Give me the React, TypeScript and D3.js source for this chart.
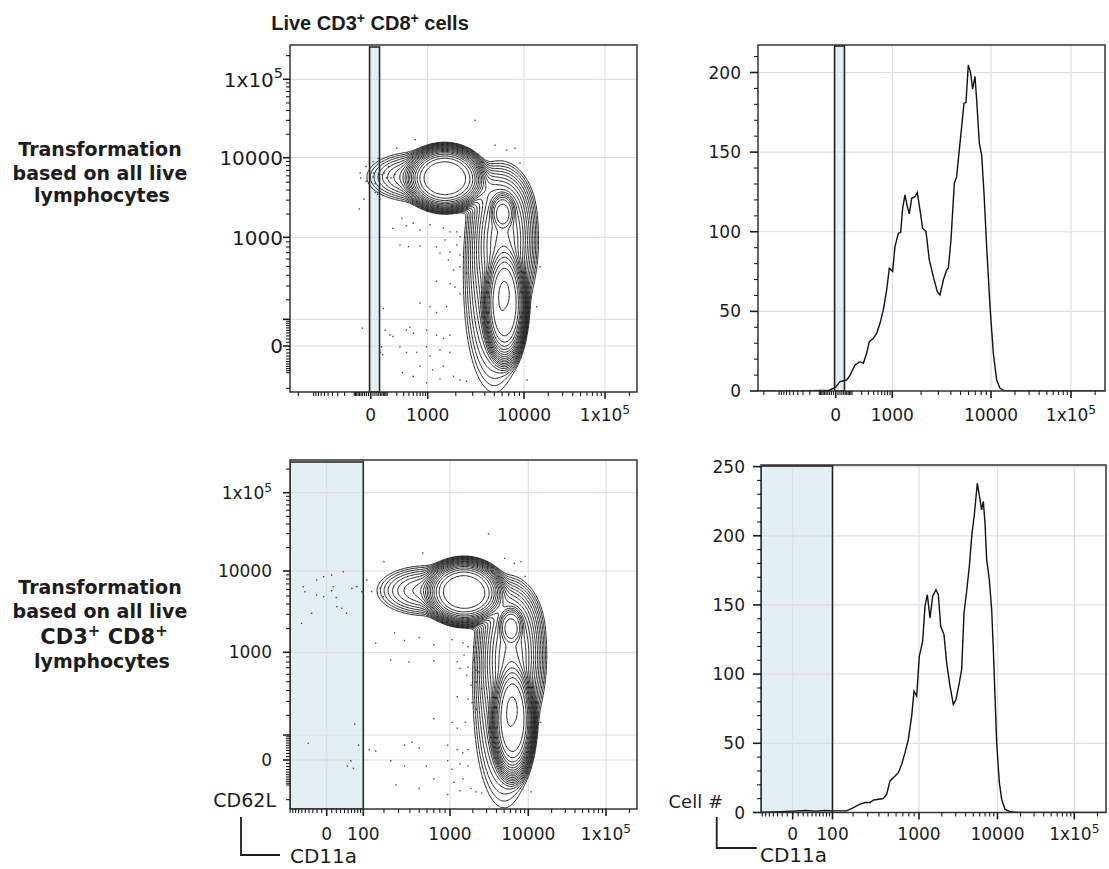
import * as d3 from 'd3';
import React from 'react';

// ---------- data ----------

// CD11a histogram, top row (transform from all live lymphocytes)
const topHistCd11a = [-2500, -300, -30, 0, 20, 59, 84, 127, 180, 223, 271, 316, 392, 467, 553, 652, 766, 869, 1008, 1068, 1159, 1227, 1288, 1362, 1441, 1512, 1599, 1731, 1829, 1948, 2075, 2244, 2426, 2663, 2924, 3110, 3361, 3629, 3772, 4011, 4331, 4568, 4857, 5124, 5406, 5657, 5969, 6294, 6589, 6949, 7217, 7670, 8087, 8530, 9062, 9775, 10697, 11783, 12973, 14990, 262000];
const topHistCount = [0, 0, 0.5, 2.5, 5.9, 6.9, 10, 16.3, 18.4, 17.4, 23.7, 31, 33.1, 36.2, 42.5, 50.9, 63.4, 77.1, 75, 90.7, 99, 99.5, 114.8, 123.1, 115.8, 111.2, 121, 122, 124.6, 113.7, 102.2, 100.1, 82.3, 71.8, 62.4, 60.3, 69.7, 76, 77.1, 94.9, 130.5, 134.6, 151.4, 166, 180.7, 181.1, 204.8, 199.6, 189.5, 197.5, 182.8, 155.6, 148.3, 124.2, 90.7, 53, 23.7, 6.9, 1.7, 0, 0];

// CD11a histogram, bottom row (transform from live CD3+ CD8+)
const bottomHistCd11a = [-80, 0, 25, 50, 75, 103, 164, 202, 244, 280, 319, 347, 394, 445, 482, 521, 563, 632, 682, 735, 792, 852, 897, 951, 1010, 1120, 1203, 1292, 1401, 1518, 1678, 1799, 1929, 2129, 2303, 2540, 2801, 3027, 3336, 3571, 3820, 4127, 4457, 4815, 5149, 5613, 6357, 6668, 6995, 7336, 7918, 8465, 8877, 9311, 9764, 10569, 11339, 12537, 14572, 19676, 262000];
const bottomHistCount = [0, 1, 1.5, 1, 1.5, 1.2, 1.2, 3.6, 6, 7.2, 7.2, 8.9, 9.6, 10.1, 13.2, 22.8, 25.2, 28.8, 34.9, 43.3, 52.9, 69.7, 87.7, 84.1, 113, 123.8, 149, 157.5, 140.6, 156.3, 161, 157.5, 134.6, 128.6, 108.2, 91.4, 78.1, 81.7, 93.8, 103.4, 144.2, 159.9, 177.9, 201.9, 215.2, 238, 218.8, 224.8, 209, 182.7, 168.3, 146.6, 117.8, 84.1, 50.5, 21.6, 9.6, 2.4, 0.5, 0, 0];

// cell populations behind the contour plots: centre, spread (decades), weight, profile (4 = flat top)
const popCd11a = [1540, 600, 6100, 6000, 6400, 5000, 3200, 6200];
const popCd62l = [5600, 5800, 2150, 2500, 170, 250, 4500, 900];
const popSdX = [0.29, 0.30, 0.10, 0.17, 0.16, 0.18, 0.15, 0.16];
const popSdY = [0.24, 0.15, 0.15, 0.20, 0.44, 0.60, 0.12, 0.35];
const popWeight = [1.0, 0.06, 0.25, 0.04, 1.0, 0.06, 0.05, 0.22];
const popShape = [4, 2, 4, 2, 4, 2, 2, 2];

// outlier events shown as dots
const eventCd11a = [3170, 200, 545, 5080, 6700, 8110, 9110, 155, 270, 350, 500, 700, 1060, 1480, 1740, 2050, 2210, 243, 390, 700, 1250, 1540, 1740, 2050, 2210, 2400, 1360, 1670, 1890, 2210, 2600, 1250, 1740, 1960, 2210, 700, 1060, 1250, 1600, 70, 83, 125, 155, 350, 420, 500, 950, 1250, 1480, 1740, 243, 350, 590, 950, 1060, 1360, 1740, 700, 1130, 1480, 280, 500, 950, 1360, 1890, 2210, 2600, 48, 58, 10900, 15800, 14380, 10, 20, -56, -51, -21, -6, 10, 13, 37, 46, 21, 33, -21, -6, 61, 77, 94, -33, -61, -42, 66, 114, 136, 178, 196];
const eventCd62l = [30000, 13200, 17000, 14500, 12560, 13200, 8600, 1310, 1770, 1420, 1540, 1250, 1450, 1320, 1180, 1180, 1020, 838, 805, 820, 805, 940, 710, 838, 662, 635, 690, 587, 457, 495, 420, 340, 320, 290, 240, 180, 160, 130, 160, 150, 51, 33, 28, 51, 63, 39, 51, 33, 22, 33, -2, -18, -18, -2, -29, -11, -18, -69, -86, -69, -100, -120, -160, -135, -120, -142, -150, -18, -2, -142, 495, 160, 5800, 4800, 6480, 5640, 7800, 8550, 8950, 6480, 9800, 3090, 3720, 3550, 5150, 4910, 6200, 6480, 5640, 3090, 2320, 59, -26, 7800, 5640, 6200, 4910];

// gates
const topGate = [-5, 45];
const bottomGate = [-100, 100];

// ticks
const topFlowTicks = [0, 1000, 10000, 100000];
const bottomFlowTicks = [0, 100, 1000, 10000, 100000];
const cd62lTicks = [0, 1000, 10000, 100000];
const cd62lGrid = [0, 100, 1000, 10000, 100000];
const topCountTicks = [0, 50, 100, 150, 200];
const bottomCountTicks = [0, 50, 100, 150, 200, 250];

// ---------- helpers ----------
const INK = '#1c1c1c';
const GRID = '#dedee6';
const GATE_FILL = '#e3eff2';
const FONT = '"DejaVu Sans", sans-serif';
const DECADE_PX = 85;

const sym = d3.scaleSymlog().constant(100).domain([0, 1]).range([0, 1]);
function flowScale(values: number[], pixels: number[]) {
  const lin = d3.scaleLinear().domain(values.map((v) => sym(v))).range(pixels);
  return (v: number) => lin(sym(v));
}

const minorFlow: number[] = [];
[10, 100, 1000, 10000, 100000].forEach((k) => {
  for (let m = 1; m <= 9; m++) minorFlow.push(m * k, -m * k);
});

type Box = { x0: number; y0: number; x1: number; y1: number };

function TickLabel({ x, y, v, anchor, size }: any) {
  if (v === 100000) {
    return (
      <text x={x} y={y} textAnchor={anchor} fontSize={size} fill={INK}>
        1x10<tspan dy={-size * 0.42} fontSize={size * 0.72}>5</tspan>
      </text>
    );
  }
  return <text x={x} y={y} textAnchor={anchor} fontSize={size} fill={INK}>{v}</text>;
}

function FlowXAxis({ xs, box, majors, labelY, size }: any) {
  const minors = minorFlow.filter((v) => !majors.includes(v)).map(xs).filter((p: number) => p >= box.x0 && p <= box.x1);
  return (
    <g stroke={INK} strokeWidth={1.1}>
      {minors.map((p: number, i: number) => <line key={'m' + i} x1={p} x2={p} y1={box.y1} y2={box.y1 + 4} />)}
      {majors.map((v: number) => <line key={v} x1={xs(v)} x2={xs(v)} y1={box.y1} y2={box.y1 + 7} strokeWidth={1.6} />)}
      <g stroke="none">
        {majors.map((v: number) => <TickLabel key={'l' + v} x={xs(v)} y={labelY} v={v} anchor="middle" size={size} />)}
      </g>
    </g>
  );
}

function FlowYAxis({ ys, box, majors, labeled, labelX, size }: any) {
  const minors = minorFlow.filter((v) => !majors.includes(v)).map(ys).filter((p: number) => p >= box.y0 && p <= box.y1);
  return (
    <g stroke={INK} strokeWidth={1.1}>
      {minors.map((p: number, i: number) => <line key={'m' + i} x1={box.x0 - 4} x2={box.x0} y1={p} y2={p} />)}
      {majors.map((v: number) => <line key={v} x1={box.x0 - 7} x2={box.x0} y1={ys(v)} y2={ys(v)} strokeWidth={1.6} />)}
      <g stroke="none">
        {labeled.map((v: number) => <TickLabel key={'l' + v} x={labelX} y={ys(v) + size * 0.36} v={v} anchor="end" size={size} />)}
      </g>
    </g>
  );
}

function CountYAxis({ ys, box, majors, labelX, size }: any) {
  const top = ys.invert(box.y0);
  const minors = d3.range(0, top, 10).filter((v) => v % 50 !== 0);
  return (
    <g stroke={INK} strokeWidth={1.1}>
      {minors.map((v) => <line key={'m' + v} x1={box.x0 - 4} x2={box.x0} y1={ys(v)} y2={ys(v)} />)}
      {majors.map((v: number) => <line key={v} x1={box.x0 - 8} x2={box.x0} y1={ys(v)} y2={ys(v)} strokeWidth={1.6} />)}
      <g stroke="none">
        {majors.map((v: number) => <TickLabel key={'l' + v} x={labelX} y={ys(v) + size * 0.36} v={v} anchor="end" size={size} />)}
      </g>
    </g>
  );
}

function contourPaths(xs: any, ys: any, box: Box) {
  const step = 1.25;
  const nx = Math.ceil((box.x1 - box.x0) / step);
  const ny = Math.ceil((box.y1 - box.y0) / step);
  const comps = popCd11a.map((v, i) => ({
    cx: xs(v), cy: ys(popCd62l[i]),
    sx: popSdX[i] * DECADE_PX, sy: popSdY[i] * DECADE_PX, w: popWeight[i], p: popShape[i] / 2,
  }));
  const values = new Array(nx * ny);
  for (let j = 0; j < ny; j++) {
    const py = box.y0 + (j + 0.5) * step;
    for (let i = 0; i < nx; i++) {
      const px = box.x0 + (i + 0.5) * step;
      let s = 0;
      for (const c of comps) {
        const dx = (px - c.cx) / c.sx, dy = (py - c.cy) / c.sy;
        const q = dx * dx + dy * dy;
        s += c.w * Math.exp(-0.5 * Math.pow(q, c.p));
      }
      values[j * nx + i] = s;
    }
  }
  const max = d3.max(values) as number;
  const n = 20, lo = 0.008, hi = 0.97;
  const thresholds = d3.range(n).map((k) => max * lo * Math.pow(hi / lo, k / (n - 1)));
  const contours = d3.contours().size([nx, ny]).thresholds(thresholds)(values);
  const path = d3.geoPath(d3.geoIdentity().scale(step).translate([box.x0, box.y0]) as any);
  return contours.map((c) => path(c as any) || '');
}

function ContourPanel({ id, box, xs, ys, gate, xGrid, xMajors, xLabelY, yLabelX, yLabelSize }: any) {
  const paths = contourPaths(xs, ys, box);
  const gx0 = Math.max(box.x0, xs(gate[0]));
  const gx1 = xs(gate[1]);
  const gy0 = box.y0 + 2;
  return (
    <g>
      <defs>
        <clipPath id={id}><rect x={box.x0} y={box.y0} width={box.x1 - box.x0} height={box.y1 - box.y0} /></clipPath>
      </defs>
      <g clipPath={`url(#${id})`}>
        <rect x={gx0} y={gy0} width={gx1 - gx0} height={box.y1 - gy0} fill={GATE_FILL} />
        {xGrid.map((v: number) => <line key={'gx' + v} x1={xs(v)} x2={xs(v)} y1={box.y0} y2={box.y1} stroke={GRID} strokeWidth={1.2} />)}
        {cd62lGrid.map((v) => <line key={'gy' + v} x1={box.x0} x2={box.x1} y1={ys(v)} y2={ys(v)} stroke={GRID} strokeWidth={1.2} />)}
        {eventCd11a.map((v, i) => (
          <rect key={'e' + i} x={xs(v) - 0.7} y={ys(eventCd62l[i]) - 0.7} width={1.4} height={1.4} fill="#4a4a4a" />
        ))}
        {paths.map((d, i) => <path key={'c' + i} d={d} fill="none" stroke="#222" strokeWidth={1} />)}
        <rect x={gx0} y={gy0} width={gx1 - gx0} height={box.y1 - gy0} fill="none" stroke="#2a2a2a" strokeWidth={1.6} />
      </g>
      <rect x={box.x0} y={box.y0} width={box.x1 - box.x0} height={box.y1 - box.y0} fill="none" stroke="#333" strokeWidth={1.5} />
      <FlowXAxis xs={xs} box={box} majors={xMajors} labelY={xLabelY} size={17} />
      <FlowYAxis ys={ys} box={box} majors={[0, 100, 1000, 10000, 100000]} labeled={cd62lTicks} labelX={yLabelX} size={yLabelSize} />
    </g>
  );
}

function HistPanel({ id, box, xs, ys, gate, xGrid, xMajors, yTicks, cd11a, counts, xLabelY, yLabelX }: any) {
  const line = d3.line<number>().x((v) => xs(v)).y((_, i) => ys(counts[i]));
  const gx0 = Math.max(box.x0, xs(gate[0]));
  const gx1 = xs(gate[1]);
  const gy0 = box.y0 + 1;
  return (
    <g>
      <defs>
        <clipPath id={id}><rect x={box.x0} y={box.y0} width={box.x1 - box.x0} height={box.y1 - box.y0} /></clipPath>
      </defs>
      <g clipPath={`url(#${id})`}>
        <rect x={gx0} y={gy0} width={gx1 - gx0} height={box.y1 - gy0} fill={GATE_FILL} />
        {xGrid.map((v: number) => <line key={'gx' + v} x1={xs(v)} x2={xs(v)} y1={box.y0} y2={box.y1} stroke={GRID} strokeWidth={1.2} />)}
        {yTicks.filter((v: number) => v > 0).map((v: number) => <line key={'gy' + v} x1={box.x0} x2={box.x1} y1={ys(v)} y2={ys(v)} stroke={GRID} strokeWidth={1.2} />)}
        <path d={line(cd11a) || ''} fill="none" stroke="#111" strokeWidth={1.4} />
        <rect x={gx0} y={gy0} width={gx1 - gx0} height={box.y1 - gy0} fill="none" stroke="#222" strokeWidth={1.6} />
      </g>
      <rect x={box.x0} y={box.y0} width={box.x1 - box.x0} height={box.y1 - box.y0} fill="none" stroke="#333" strokeWidth={1.5} />
      <FlowXAxis xs={xs} box={box} majors={xMajors} labelY={xLabelY} size={17} />
      <CountYAxis ys={ys} box={box} majors={yTicks} labelX={yLabelX} size={17} />
    </g>
  );
}

export default function App() {
  const tlBox = { x0: 290, y0: 45, x1: 637, y1: 392 };
  const trBox = { x0: 758, y0: 45, x1: 1105, y1: 391 };
  const blBox = { x0: 290, y0: 460, x1: 637, y1: 809 };
  const brBox = { x0: 761, y0: 465, x1: 1106, y1: 812.5 };

  const tlX = flowScale(topFlowTicks, [370.7, 427.7, 524, 605]);
  const tlY = flowScale([0, 100, 1000, 10000, 100000], [346, 319.3, 237.3, 157.7, 79.3]);
  const trX = flowScale(topFlowTicks, [835.7, 892.3, 991, 1071]);
  const trY = d3.scaleLinear().domain([0, 200]).range([391, 72.5]);
  const blX = flowScale(bottomFlowTicks, [326.7, 363.3, 450, 528.3, 606]);
  const blY = flowScale([0, 100, 1000, 10000, 100000], [760, 735, 652.3, 571, 492.7]);
  const brX = flowScale(bottomFlowTicks, [792.7, 832.5, 919, 997.5, 1074.3]);
  const brY = d3.scaleLinear().domain([0, 250]).range([812.5, 466.6]);

  const bold = { fontFamily: FONT, fontWeight: 700, fontSize: 19, fill: INK };

  return (
    <svg width={1109} height={869} style={{ position: 'absolute', left: 0, top: 0, background: '#fff' }} fontFamily={FONT}>
      <rect x={0} y={0} width={1109} height={869} fill="#fff" />
      <text x={370} y={30} textAnchor="middle" fontFamily='"Liberation Sans", Arial, sans-serif' fontWeight={700} fontSize={20} fill={INK}>
        Live CD3<tspan dy={-7} fontSize={14}>+</tspan><tspan dy={7}> CD8</tspan><tspan dy={-7} fontSize={14}>+</tspan><tspan dy={7}> cells</tspan>
      </text>

      <g textAnchor="middle" style={bold as any}>
        <text x={100} y={156}>Transformation</text>
        <text x={100} y={180}>based on all live</text>
        <text x={102} y={202}>lymphocytes</text>
        <text x={100} y={594}>Transformation</text>
        <text x={100} y={618}>based on all live</text>
        <text x={104} y={644} fontSize={21}>
          CD3<tspan dy={-8} fontSize={15}>+</tspan><tspan dy={8}> CD8</tspan><tspan dy={-8} fontSize={15}>+</tspan>
        </text>
        <text x={102} y={668}>lymphocytes</text>
      </g>

      <ContourPanel id="clipTL" box={tlBox} xs={tlX} ys={tlY} gate={topGate} xGrid={topFlowTicks} xMajors={topFlowTicks} xLabelY={421} yLabelX={283} yLabelSize={20} />
      <HistPanel id="clipTR" box={trBox} xs={trX} ys={trY} gate={topGate} xGrid={topFlowTicks} xMajors={topFlowTicks} yTicks={topCountTicks} cd11a={topHistCd11a} counts={topHistCount} xLabelY={421} yLabelX={741} />
      <ContourPanel id="clipBL" box={blBox} xs={blX} ys={blY} gate={bottomGate} xGrid={bottomFlowTicks} xMajors={bottomFlowTicks} xLabelY={840} yLabelX={272} yLabelSize={17} />
      <HistPanel id="clipBR" box={brBox} xs={brX} ys={brY} gate={bottomGate} xGrid={bottomFlowTicks} xMajors={bottomFlowTicks} yTicks={bottomCountTicks} cd11a={bottomHistCd11a} counts={bottomHistCount} xLabelY={840} yLabelX={745} />

      {/* axis legends */}
      <text x={276} y={807} textAnchor="end" fontSize={19} fill={INK}>CD62L</text>
      <path d="M241,817V855H280" fill="none" stroke={INK} strokeWidth={1.8} />
      <text x={290} y={863} fontSize={20} fill={INK}>CD11a</text>
      <text x={723} y={808} textAnchor="end" fontSize={18} fill={INK}>Cell #</text>
      <path d="M716.7,817V848H756.7" fill="none" stroke={INK} strokeWidth={1.8} />
      <text x={760} y={862} fontSize={20} fill={INK}>CD11a</text>
    </svg>
  );
}
